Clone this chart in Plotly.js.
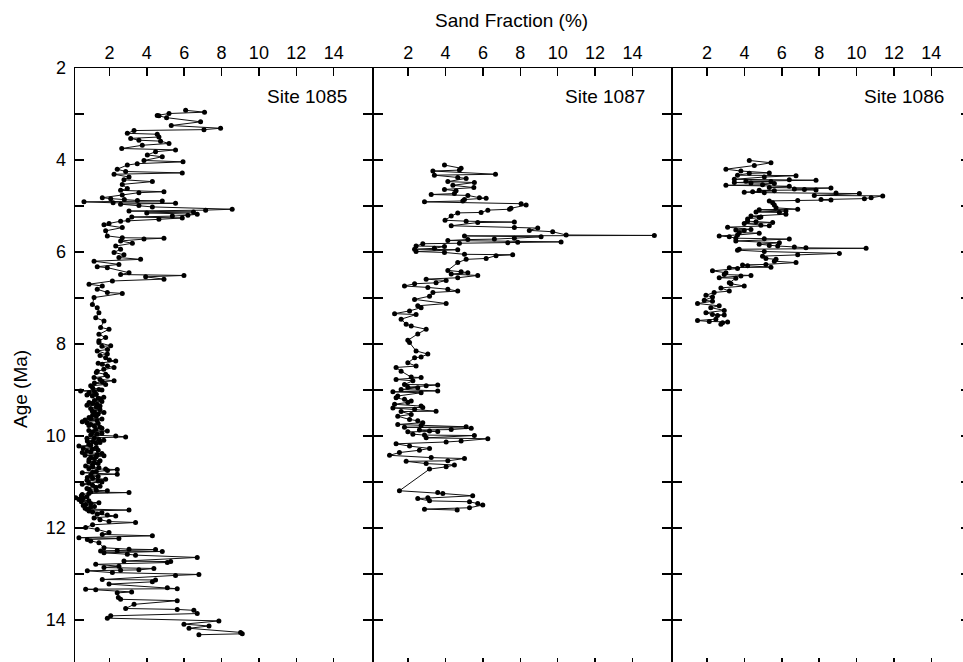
<!DOCTYPE html>
<html><head><meta charset="utf-8">
<script src="https://cdn.plot.ly/plotly-3.0.1.min.js"></script>
<style>html,body{margin:0;padding:0;overflow:hidden;background:#fff}#chart{width:980px;height:680px}</style>
</head><body><div id="chart"></div>
<script>
// Site 1085
const age1085 = [2.92,2.96,2.99,3.03,3.04,3.08,3.17,3.25,3.31,3.34,3.36,3.42,3.44,3.50,3.53,3.57,3.59,3.64,3.68,3.75,3.78,3.82,3.89,3.93,4.01,4.04,4.08,4.11,4.20,4.25,4.28,4.31,4.37,4.43,4.47,4.53,4.62,4.66,4.69,4.71,4.76,4.82,4.84,4.89,4.91,4.94,4.96,4.99,5.02,5.07,5.09,5.11,5.18,5.22,5.29,5.33,5.38,5.41,5.47,5.54,5.65,5.69,5.70,5.72,5.76,5.81,5.87,5.94,6.01,6.06,6.12,6.16,6.20,6.27,6.32,6.34,6.45,6.49,6.51,6.54,6.59,6.63,6.70,6.74,6.81,6.88,6.90,6.99,7.14,7.21,7.32,7.43,7.50,7.64,7.68,7.79,7.86,7.93,7.97,8.04,8.05,8.12,8.15,8.22,8.25,8.30,8.35,8.37,8.42,8.44,8.48,8.51,8.55,8.59,8.62,8.66,8.70,8.73,8.77,8.80,8.82,8.85,8.88,8.91,8.95,8.99,9.00,9.02,9.06,9.09,9.13,9.16,9.20,9.23,9.27,9.31,9.35,9.40,9.46,9.49,9.52,9.55,9.60,9.63,9.67,9.69,9.71,9.75,9.79,9.83,9.86,9.89,9.92,9.96,10.00,10.02,10.04,10.07,10.11,10.14,10.18,10.22,10.25,10.29,10.33,10.36,10.38,10.40,10.43,10.47,10.51,10.54,10.58,10.62,10.65,10.69,10.72,10.73,10.77,10.80,10.83,10.85,10.90,10.94,10.98,11.02,11.05,11.09,11.12,11.16,11.19,11.22,11.23,11.27,11.30,11.34,11.38,11.41,11.45,11.49,11.53,11.57,11.61,11.63,11.67,11.70,11.72,11.74,11.78,11.82,11.86,11.88,11.93,11.99,12.03,12.10,12.14,12.17,12.21,12.23,12.25,12.28,12.32,12.43,12.46,12.47,12.49,12.50,12.51,12.54,12.57,12.59,12.64,12.72,12.73,12.75,12.79,12.83,12.86,12.88,12.91,12.92,12.93,12.97,13.01,13.03,13.12,13.13,13.17,13.22,13.30,13.32,13.33,13.34,13.39,13.41,13.51,13.55,13.58,13.66,13.75,13.77,13.79,13.86,13.91,13.96,14.02,14.09,14.13,14.18,14.27,14.30,14.32];
const sand1085 = [6.08,7.09,5.19,4.56,4.65,5.06,6.88,5.31,7.95,7.06,3.32,2.96,4.56,4.65,3.14,3.58,4.74,5.19,3.76,2.66,5.54,4.47,4.03,4.83,3.85,5.94,3.49,2.96,2.42,2.87,5.90,2.25,3.05,2.78,4.30,2.69,2.96,2.60,4.92,3.58,2.69,1.62,2.07,4.83,0.64,5.54,2.60,3.58,4.30,8.57,7.15,3.05,6.70,5.37,4.65,2.60,1.98,1.71,2.69,1.80,1.89,2.69,4.92,3.85,2.60,3.23,2.34,2.60,2.25,2.78,2.51,3.67,1.18,2.51,1.35,1.89,3.05,2.60,5.99,3.94,4.92,2.16,0.91,1.62,1.35,1.89,2.69,1.18,1.09,1.35,1.44,1.27,1.71,1.53,1.98,1.44,1.80,1.44,1.44,2.07,1.6,1.9,1.35,1.89,1.5,1.80,2.0,2.34,1.4,1.62,1.9,2.25,1.7,1.35,1.3,1.80,1.9,1.18,1.5,2.25,1.62,1.2,1.8,1.00,1.1,1.44,1.6,0.46,0.91,1.3,1.09,1.7,1.53,1.2,0.91,1.35,1.5,1.0,1.09,1.71,1.4,1.1,0.91,1.6,1.35,0.55,0.8,1.00,1.2,1.6,1.27,1.89,1.1,1.35,2.34,2.87,1.2,1.44,0.82,1.5,0.9,0.37,1.3,1.09,0.8,0.55,1.6,1.35,1.71,1.0,0.91,1.5,1.18,1.1,0.73,1.44,1.80,2.42,1.3,0.55,2.42,1.0,0.82,1.80,1.4,0.9,0.55,1.5,1.27,0.91,1.89,1.0,3.05,0.55,0.5,0.20,0.37,0.9,1.44,0.73,1.2,0.7,3.05,0.91,1.6,1.35,1.89,2.34,1.18,1.5,1.98,3.40,1.1,0.73,1.35,1.98,1.62,4.30,0.37,2.51,0.82,1.00,1.44,1.71,3.05,4.47,2.42,1.53,4.83,1.71,2.96,3.40,6.70,2.78,5.28,5.10,1.27,2.51,1.71,4.38,3.58,2.60,0.82,2.16,6.79,5.54,1.62,4.47,4.30,1.98,5.10,5.63,0.73,1.27,3.19,2.42,2.48,2.60,5.63,3.32,2.87,5.63,6.52,6.70,2.07,1.89,7.86,5.99,7.33,6.26,9.02,9.11,6.79];
// Site 1085, additional samples read from the dense parts of the record
const age1085b = [4.86,4.88,4.93,5.13,5.15,5.20,5.24,5.26,5.31,9.03,9.11,9.18,9.25,9.29,9.33,9.37,9.43,9.48,9.57,9.62,9.65,9.73,9.77,9.81,9.88,9.94,9.98,10.05,10.09,10.12,10.16,10.20,10.27,10.31,10.35,10.42,10.45,10.49,10.56,10.60,10.67,10.71,10.75,10.79,10.88,10.92,10.96,11.00,11.07,11.14,11.18,11.25,11.32,11.36,11.43,11.47,11.51,11.55,11.59,11.65];
const sand1085b = [2.8,3.5,2.2,6.5,4.0,6.2,3.2,5.9,3.0,1.2,0.8,1.4,1.6,1.1,0.8,1.3,1.5,1.2,1.3,1.0,0.7,1.4,0.9,1.5,0.9,1.6,1.0,0.8,1.7,1.1,1.3,1.0,0.6,1.4,1.0,0.7,1.3,1.2,0.9,1.4,1.1,0.9,1.9,1.1,1.4,1.1,0.8,1.6,1.1,0.8,1.3,0.9,0.8,0.6,0.5,1.0,0.6,1.0,0.8,1.1];

// Site 1087
const age1087 = [4.11,4.18,4.22,4.24,4.31,4.33,4.38,4.40,4.47,4.49,4.55,4.60,4.64,4.67,4.73,4.75,4.77,4.82,4.83,4.86,4.89,4.91,4.95,4.98,5.05,5.07,5.09,5.14,5.15,5.22,5.31,5.33,5.35,5.36,5.43,5.47,5.48,5.53,5.56,5.63,5.64,5.65,5.67,5.70,5.72,5.73,5.75,5.78,5.79,5.80,5.81,5.82,5.87,5.88,5.92,5.94,5.95,5.99,6.01,6.05,6.06,6.08,6.14,6.16,6.23,6.40,6.43,6.45,6.48,6.51,6.56,6.59,6.62,6.67,6.69,6.74,6.77,6.81,6.85,6.88,6.96,7.03,7.12,7.17,7.21,7.28,7.34,7.36,7.46,7.57,7.61,7.68,7.78,7.92,7.97,8.15,8.22,8.28,8.30,8.41,8.48,8.51,8.59,8.72,8.73,8.77,8.80,8.88,8.89,8.91,8.94,8.95,8.99,9.02,9.04,9.06,9.13,9.17,9.20,9.24,9.27,9.31,9.35,9.38,9.39,9.42,9.46,9.47,9.53,9.57,9.64,9.67,9.71,9.75,9.77,9.80,9.81,9.83,9.86,9.87,9.89,9.90,9.91,9.96,9.98,9.99,10.04,10.06,10.11,10.13,10.17,10.22,10.27,10.31,10.36,10.42,10.47,10.49,10.54,10.55,10.60,10.63,10.67,10.72,11.19,11.23,11.25,11.30,11.34,11.36,11.41,11.43,11.47,11.50,11.56,11.59,11.61];
const sand1087 = [3.94,4.83,4.74,3.32,6.67,3.40,4.65,5.10,4.12,5.54,4.39,5.51,3.94,4.56,4.47,3.23,5.19,5.81,6.17,5.01,4.92,2.87,8.04,8.31,7.50,7.42,6.26,5.90,4.65,4.30,3.97,5.10,7.68,5.72,4.30,7.68,8.93,8.48,9.73,10.45,15.17,5.01,9.11,7.68,6.61,5.19,4.12,10.18,7.86,7.33,4.74,2.78,2.42,3.94,3.40,2.34,4.65,2.42,3.94,5.01,7.59,6.70,6.17,5.10,4.65,4.12,4.83,5.19,4.30,5.72,4.65,2.96,4.03,3.49,2.34,1.80,3.05,4.12,4.65,3.32,3.14,2.34,4.03,2.51,2.69,2.07,1.27,2.42,1.62,1.89,2.16,2.96,2.51,1.98,2.07,2.42,3.05,2.69,2.34,1.98,2.42,1.35,1.62,2.16,2.69,1.35,2.25,1.80,3.58,2.96,1.98,2.51,1.62,3.58,1.18,2.69,1.44,1.35,1.80,2.16,1.98,1.27,2.69,2.78,1.18,2.34,3.49,1.62,2.16,1.44,2.07,2.51,2.78,1.44,2.69,5.10,1.80,5.37,4.30,2.60,3.14,3.58,1.98,2.25,2.87,5.54,2.96,6.26,4.83,4.03,1.35,2.07,3.14,2.60,1.53,1.00,3.23,5.01,4.12,1.89,2.96,4.47,4.03,3.14,1.53,3.58,3.85,5.45,3.05,2.51,3.14,5.28,5.72,5.99,5.28,2.87,4.62];

// Site 1086
const age1086 = [4.01,4.06,4.12,4.20,4.24,4.28,4.29,4.33,4.34,4.37,4.42,4.43,4.44,4.46,4.47,4.49,4.50,4.51,4.54,4.55,4.57,4.60,4.61,4.63,4.64,4.65,4.66,4.67,4.69,4.70,4.71,4.72,4.73,4.77,4.78,4.82,4.84,4.86,4.87,4.88,4.89,4.93,4.98,5.04,5.07,5.08,5.11,5.13,5.14,5.18,5.22,5.24,5.25,5.28,5.33,5.34,5.36,5.38,5.42,5.43,5.46,5.51,5.52,5.53,5.58,5.59,5.63,5.65,5.67,5.70,5.71,5.72,5.76,5.80,5.83,5.86,5.87,5.89,5.91,5.92,5.94,5.96,5.99,6.03,6.06,6.09,6.14,6.16,6.20,6.23,6.27,6.28,6.30,6.33,6.34,6.36,6.41,6.45,6.49,6.51,6.52,6.56,6.57,6.67,6.69,6.74,6.78,6.85,6.88,6.94,6.98,7.05,7.07,7.12,7.17,7.21,7.27,7.32,7.36,7.37,7.38,7.46,7.49,7.51,7.52,7.54,7.57];
const sand1086 = [4.26,5.42,4.53,3.01,3.81,5.33,4.26,3.63,6.76,5.06,3.46,6.40,7.83,4.08,5.42,3.46,4.35,5.60,4.97,3.01,6.40,5.33,8.63,6.67,7.21,7.83,4.79,5.60,4.44,3.99,5.06,8.90,10.15,7.74,11.40,10.78,10.42,8.10,8.63,6.85,5.33,5.51,5.60,5.69,6.85,4.79,6.22,4.62,5.87,6.22,4.35,4.88,4.79,4.17,4.17,4.62,5.51,3.99,4.88,5.33,3.10,4.35,3.54,3.99,3.72,4.79,3.63,2.65,3.19,3.54,5.06,6.40,3.54,5.87,4.79,5.33,5.78,6.67,7.29,10.51,3.72,3.63,5.06,9.08,6.85,4.97,5.15,5.69,5.60,6.76,5.15,3.90,4.17,5.42,3.19,3.63,2.29,3.01,2.92,4.35,3.81,2.65,3.54,3.19,3.28,3.99,2.74,3.19,2.38,1.94,2.29,1.85,2.29,1.49,2.65,2.20,2.92,1.94,2.29,2.92,2.56,2.47,1.49,2.12,3.10,2.83,2.74];

const siteNames = ['Site 1085','Site 1087','Site 1086'];
const xTickVals = [2,4,6,8,10,12,14];
const yTickVals = [2,3,4,5,6,7,8,9,10,11,12,13,14,15];
const yTickText = ['2','','4','','6','','8','','10','','12','','14',''];

// merge the two 1085 lists and order every record by age
function byAge(a, s) {
  const idx = a.map((_, i) => i).sort((p, q) => a[p] - a[q]);
  return {age: idx.map(i => a[i]), sand: idx.map(i => s[i])};
}
const rec = [
  byAge(age1085.concat(age1085b), sand1085.concat(sand1085b)),
  byAge(age1087, sand1087),
  byAge(age1086, sand1086)
];

const FONT = 'Liberation Sans, Arial, Helvetica, sans-serif';
const traces = rec.map((r, i) => ({
  x: r.sand, y: r.age,
  xaxis: i === 0 ? 'x' : 'x' + (i + 1),
  yaxis: i === 0 ? 'y' : 'y' + (i + 1),
  type: 'scatter', mode: 'lines+markers',
  line: {color: '#111', width: 1},
  marker: {color: '#000', size: 5},
  hoverinfo: 'x+y', showlegend: false
}));

// plot area geometry (pixels): panels 297.5 px wide, borders shared
const L = 75, PW = 297.5, W = 895.5, TOP = 68, BOT = 666, H = BOT - TOP;
const starts = [0, 299, 598];
const doms = starts.map(s => [s / W, Math.min(1, (s + PW) / W)]);

const layout = {
  width: 980, height: 680,
  margin: {l: L, r: 980 - L - W, t: TOP, b: 680 - BOT},
  paper_bgcolor: '#fff', plot_bgcolor: '#fff',
  font: {family: FONT, color: '#000', size: 18},
  showlegend: false,
  annotations: [
    {text: 'Sand Fraction (%)', xref: 'paper', yref: 'paper', x: (512 - L) / W, y: (BOT - 20) / H, xanchor: 'center', yanchor: 'middle', showarrow: false, font: {size: 19, family: FONT, color: '#000'}},
    {text: 'Age (Ma)', xref: 'paper', yref: 'paper', x: (20 - L) / W, y: (BOT - 389) / H, textangle: -90, xanchor: 'center', yanchor: 'middle', showarrow: false, font: {size: 19, family: FONT, color: '#000'}}
  ]
};
siteNames.forEach((name, i) => {
  const sx = i === 0 ? '' : String(i + 1);
  layout.annotations.push({text: name, xref: 'x' + sx, yref: 'y' + sx, x: 14.8, y: 2.62, xanchor: 'right', yanchor: 'middle', showarrow: false, font: {size: 19, family: FONT, color: '#000'}});
  layout['xaxis' + sx] = {
    domain: doms[i], anchor: 'y' + sx, range: [0.16, 16.07], side: 'top',
    showline: true, linecolor: '#000', linewidth: 1.5, mirror: 'ticks',
    ticks: 'inside', ticklen: 8, tickwidth: 1.5, tickcolor: '#000',
    tickmode: 'array', tickvals: xTickVals, showgrid: false, zeroline: false,
    tickfont: {size: 18, family: FONT, color: '#000'}, fixedrange: true
  };
  layout['yaxis' + sx] = {
    domain: [0, 1], anchor: 'x' + sx, range: [15.0, 2.0],
    showline: true, linecolor: '#000', linewidth: 1.5, mirror: 'ticks',
    ticks: 'inside', ticklen: 9, tickwidth: 1.5, tickcolor: '#000',
    tickmode: 'array', tickvals: yTickVals, ticktext: yTickText,
    showticklabels: i === 0, ticklabelstandoff: 4,
    showgrid: false, zeroline: false,
    tickfont: {size: 18, family: FONT, color: '#000'}, fixedrange: true
  };
});

Plotly.newPlot('chart', traces, layout, {displayModeBar: false, staticPlot: true});
</script></body></html>
